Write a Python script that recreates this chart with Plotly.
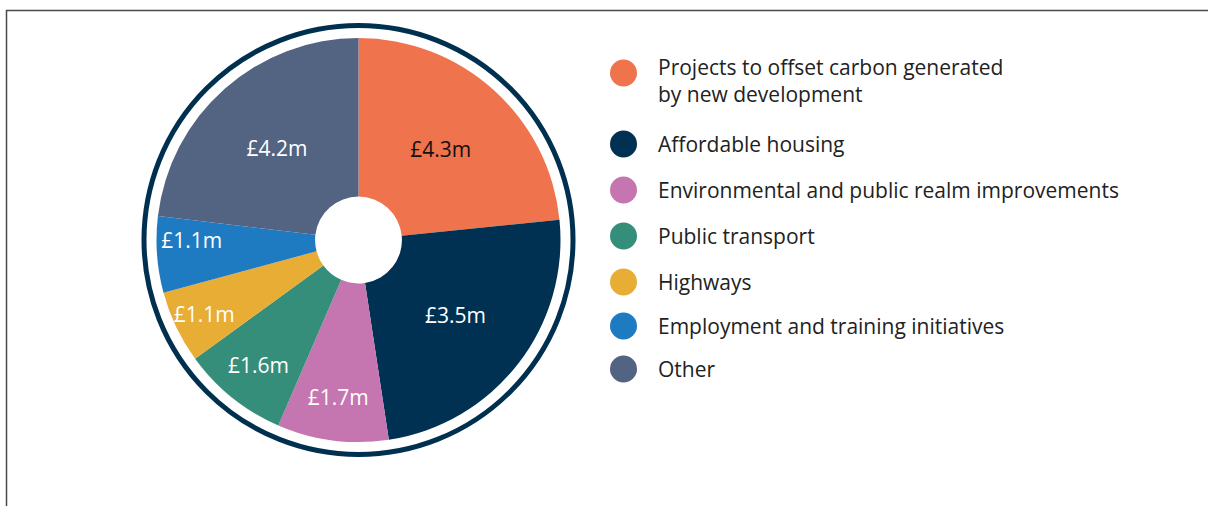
import plotly.graph_objects as go

categories = [
    "Projects to offset carbon generated<br>by new development",
    "Affordable housing",
    "Environmental and public realm improvements",
    "Public transport",
    "Highways",
    "Employment and training initiatives",
    "Other",
]
# slice sizes as drawn in the picture (share of the circle, %)
slice_share = [23.4, 24.2, 8.9, 8.5, 5.8, 6.1, 23.1]
# printed amounts
value_labels = ["£4.3m", "£3.5m", "£1.7m", "£1.6m", "£1.1m", "£1.1m", "£4.2m"]
colors = ["#EF734C", "#003152", "#C575AF", "#358E79", "#E8AD34", "#1E7BC2", "#536382"]
label_colors = ["#111111", "white", "white", "white", "white", "white", "white"]

W, H = 1209, 506
FONT = "Open Sans"

# pie geometry in pixels
cx, cy, r = 358.5, 240, 202
fig = go.Figure(go.Pie(
    labels=[c.replace("<br>", " ") for c in categories],
    values=slice_share,
    text=value_labels,
    textinfo="text",
    textposition="inside",
    insidetextorientation="horizontal",
    textfont=dict(family=FONT, size=21, color=label_colors),
    marker=dict(colors=colors, line=dict(width=0)),
    hole=0.215,
    sort=False,
    direction="clockwise",
    rotation=0,
    showlegend=False,
    hoverinfo="skip",
    domain=dict(x=[(cx - r) / W, (cx + r) / W], y=[(H - cy - r) / H, (H - cy + r) / H]),
))

shapes = []
# outer ring
rr = 214.5
shapes.append(dict(type="circle", xref="paper", yref="paper",
                   x0=(cx - rr) / W, x1=(cx + rr) / W,
                   y0=(H - cy - rr) / H, y1=(H - cy + rr) / H,
                   line=dict(color="#00304F", width=5)))
# frame lines
shapes.append(dict(type="line", xref="paper", yref="paper",
                   x0=6.5 / W, x1=6.5 / W, y0=0, y1=(H - 10) / H,
                   line=dict(color="#4A4A4A", width=1.5)))
shapes.append(dict(type="line", xref="paper", yref="paper",
                   x0=6 / W, x1=1208 / W, y0=(H - 10.5) / H, y1=(H - 10.5) / H,
                   line=dict(color="#4A4A4A", width=1.5)))

# legend (circle markers + text)
dot_y = [73, 144, 190, 236, 282, 326, 369]
text_y = [81, 144, 190, 236, 282, 326, 369]
dot_x, dot_r = 623.5, 13.5
annotations = []
for cat, col, dy, ty in zip(categories, colors, dot_y, text_y):
    shapes.append(dict(type="circle", xref="paper", yref="paper",
                       x0=(dot_x - dot_r) / W, x1=(dot_x + dot_r) / W,
                       y0=(H - dy - dot_r) / H, y1=(H - dy + dot_r) / H,
                       fillcolor=col, line=dict(width=0)))
    annotations.append(dict(xref="paper", yref="paper", x=656 / W, y=(H - ty) / H,
                            xanchor="left", yanchor="middle", align="left",
                            text=cat, showarrow=False,
                            font=dict(family=FONT, size=21, color="#222222")))

fig.update_layout(
    width=W, height=H,
    margin=dict(l=0, r=0, t=0, b=0),
    paper_bgcolor="white", plot_bgcolor="white",
    uniformtext=dict(minsize=21, mode="show"),
    shapes=shapes, annotations=annotations,
)
fig.write_html("out.html", config={"displayModeBar": False},
               post_script="document.body.style.margin='0';document.body.style.overflow='hidden';")
